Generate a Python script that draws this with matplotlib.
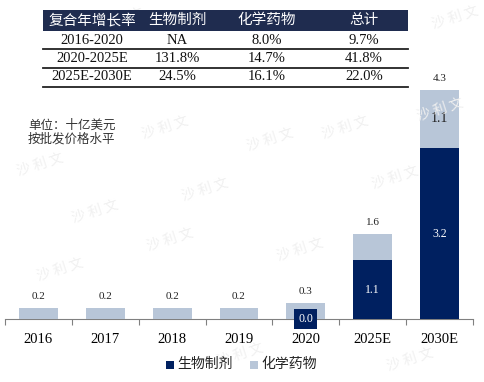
import matplotlib
matplotlib.use("Agg")
import matplotlib.pyplot as plt
from matplotlib.patches import Rectangle
from matplotlib.lines import Line2D

years = ["2016", "2017", "2018", "2019", "2020", "2025E", "2030E"]
bio = [0.0, 0.0, 0.0, 0.0, 0.0, 1.1, 3.2]
chem = [0.2, 0.2, 0.2, 0.2, 0.3, 0.5, 1.1]
totals = [0.2, 0.2, 0.2, 0.2, 0.3, 1.6, 4.3]
bio_labels = [None, None, None, None, "0.0", "1.1", "3.2"]
chem_labels = [None, None, None, None, None, None, "1.1"]

table_header = ["复合年增长率", "生物制剂", "化学药物", "总计"]
table_rows = [
    ["2016-2020", "NA", "8.0%", "9.7%"],
    ["2020-2025E", "131.8%", "14.7%", "41.8%"],
    ["2025E-2030E", "24.5%", "16.1%", "22.0%"],
]
legend_names = ["生物制剂", "化学药物"]
note_lines = ["单位：十亿美元", "按批发价格水平"]

DARK = "#002060"
LIGHT = "#b8c6d8"
HEAD = "#1f2c4f"
W, H = 484, 382
SERIF = ["Liberation Serif", "DejaVu Serif"]
CJK = ["Noto Sans CJK SC", "DejaVu Sans"]

fig = plt.figure(figsize=(W / 100, H / 100), dpi=100)
fig.patch.set_facecolor("white")

def fx(x):
    return x / W

def fy(y):
    return 1 - y / H

# faint watermarks
wm_pos = [(40, 165), (165, 128), (345, 128), (455, 18), (95, 212), (205, 190),
          (395, 178), (270, 140), (120, 20), (300, 250), (60, 270), (240, 355),
          (410, 360), (170, 240), (440, 110)]
for (x, y) in wm_pos:
    fig.text(fx(x), fy(y), "沙 利 文", family=CJK, fontsize=10, color="#f0f0f0",
             rotation=18, ha="center", va="center", zorder=0)

ax = fig.add_axes([fx(5), 63 / H, 468 / W, 229.5 / H])
ax.set_facecolor("none")
x = list(range(len(years)))
bw = 0.58
ax.bar(x, bio, width=bw, color=DARK, zorder=3)
ax.bar(x, chem, width=bw, bottom=bio, color=LIGHT, zorder=3)
ax.set_xlim(-0.5, len(years) - 0.5)
ax.set_ylim(0, 4.3)

for i in x:
    ax.text(i, totals[i] + 0.13, f"{totals[i]:.1f}", ha="center", va="bottom",
            family=SERIF, fontsize=8, color="#222222", zorder=5)
    if bio_labels[i] is not None:
        if bio[i] < 0.2:
            ax.text(i, 0.0, bio_labels[i], ha="center", va="center", family=SERIF,
                    fontsize=8.5, color="white", zorder=6, clip_on=False,
                    bbox=dict(boxstyle="square,pad=0.35", fc=DARK, ec="none"))
        else:
            ax.text(i, bio[i] / 2, bio_labels[i], ha="center", va="center",
                    family=SERIF, fontsize=8.5, color="white", zorder=5)
    if chem_labels[i] is not None:
        ax.text(i, bio[i] + chem[i] / 2, chem_labels[i], ha="center", va="center",
                family=SERIF, fontsize=10, color="#222222", zorder=5)

for s in ["top", "right", "left"]:
    ax.spines[s].set_visible(False)
ax.spines["bottom"].set_color("#808080")
ax.spines["bottom"].set_linewidth(0.8)
ax.set_yticks([])
ax.set_xticks([i - 0.5 for i in range(len(years) + 1)], minor=False)
ax.set_xticklabels([])
ax.tick_params(axis="x", which="major", direction="out", length=4, color="#808080", width=0.8)
ax.set_xticks(x, minor=True)
ax.set_xticklabels(years, minor=True, family=SERIF, fontsize=10.5)
ax.tick_params(axis="x", which="minor", length=0, pad=10)

# legend
lx = 166
fig.patches.append(Rectangle((fx(lx), fy(369)), fx(8), 8 / H, transform=fig.transFigure,
                             fc=DARK, ec="none"))
fig.text(fx(lx + 11), fy(364), legend_names[0], family=CJK, fontsize=10,
         ha="left", va="center", color="#222222")
fig.patches.append(Rectangle((fx(250), fy(369)), fx(8), 8 / H, transform=fig.transFigure,
                             fc=LIGHT, ec="none"))
fig.text(fx(261), fy(364), legend_names[1], family=CJK, fontsize=10,
         ha="left", va="center", color="#222222")

# note
fig.text(fx(28), fy(125), note_lines[0], family=CJK, fontsize=9, ha="left",
         va="center", color="#333333", fontweight="light")
fig.text(fx(28), fy(139), note_lines[1], family=CJK, fontsize=9, ha="left",
         va="center", color="#333333", fontweight="light")

# table
tx0, tx1 = 43, 408
fig.patches.append(Rectangle((fx(tx0), fy(31)), fx(tx1 - tx0), 21 / H,
                             transform=fig.transFigure, fc=HEAD, ec="none"))
col_x = [92, 177, 267, 364]
for j, h in enumerate(table_header):
    fig.text(fx(col_x[j]), fy(20), h, family=CJK, fontsize=10.5, ha="center",
             va="center", color="white")
row_y = [40, 59, 77]
line_y = [49, 68, 86.5]
for r, row in enumerate(table_rows):
    for j, v in enumerate(row):
        fig.text(fx(col_x[j]), fy(row_y[r]), v, family=SERIF, fontsize=10.5,
                 ha="center", va="center", color="#111111")
    fig.lines.append(Line2D([fx(tx0), fx(tx1)], [fy(line_y[r])] * 2,
                            transform=fig.transFigure, color="#222222", lw=1.3))

fig.savefig("out.png", dpi=100)
